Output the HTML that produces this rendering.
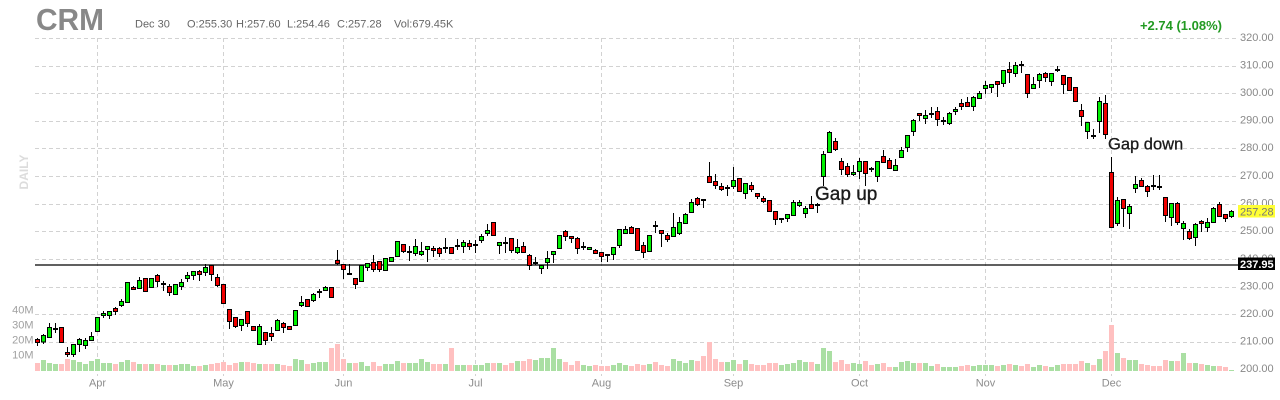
<!DOCTYPE html>
<html>
<head>
<meta charset="utf-8">
<style>
html,body{margin:0;padding:0;background:#fff;}
body{width:1280px;height:400px;overflow:hidden;}
svg{display:block;font-family:"Liberation Sans",Arial,sans-serif;}
</style>
</head>
<body>
<svg width="1280" height="400" viewBox="0 0 1280 400" xmlns="http://www.w3.org/2000/svg">
<rect width="1280" height="400" fill="#fff"/>

<g stroke="#d2d2d2" stroke-width="1" stroke-dasharray="4,3" shape-rendering="crispEdges">
<path d="M35 38.5H1236M35 66.5H1236M35 93.5H1236M35 121.5H1236M35 148.5H1236M35 176.5H1236M35 204.5H1236M35 231.5H1236M35 259.5H1236M35 287.5H1236M35 314.5H1236M35 342.5H1236"/>
<path d="M97.5 38V376M223.5 38V376M343.5 38V376M475.5 38V376M601.5 38V376M733.5 38V376M859.5 38V376M985.5 38V376M1111.5 38V376"/>
</g>

<path fill="#aadfa3" d="M41 371v-11h5v11zM47 371v-8h5v8zM53 371v-7h5v7zM71 371v-11h5v11zM77 371v-9h5v9zM83 371v-7h5v7zM89 371v-10h5v10zM95 371v-12h5v12zM101 371v-8h5v8zM107 371v-8h5v8zM119 371v-9h5v9zM125 371v-11h5v11zM137 371v-7h5v7zM149 371v-7h5v7zM161 371v-6h5v6zM173 371v-6h5v6zM179 371v-7h5v7zM185 371v-7h5v7zM191 371v-5h5v5zM203 371v-6h5v6zM239 371v-9h5v9zM257 371v-7h5v7zM275 371v-7h5v7zM293 371v-12h5v12zM299 371v-11h5v11zM311 371v-8h5v8zM317 371v-9h5v9zM323 371v-9h5v9zM347 371v-8h5v8zM359 371v-9h5v9zM365 371v-5h5v5zM383 371v-7h5v7zM389 371v-7h5v7zM395 371v-10h5v10zM407 371v-8h5v8zM413 371v-8h5v8zM419 371v-12h5v12zM425 371v-9h5v9zM443 371v-7h5v7zM455 371v-6h5v6zM461 371v-6h5v6zM473 371v-6h5v6zM479 371v-6h5v6zM485 371v-8h5v8zM497 371v-8h5v8zM515 371v-10h5v10zM533 371v-11h5v11zM539 371v-13h5v13zM545 371v-13h5v13zM551 371v-23h5v23zM557 371v-12h5v12zM581 371v-6h5v6zM587 371v-5h5v5zM611 371v-6h5v6zM617 371v-8h5v8zM623 371v-6h5v6zM647 371v-7h5v7zM671 371v-12h5v12zM677 371v-10h5v10zM683 371v-8h5v8zM689 371v-11h5v11zM725 371v-9h5v9zM731 371v-11h5v11zM743 371v-11h5v11zM779 371v-6h5v6zM785 371v-7h5v7zM791 371v-8h5v8zM797 371v-11h5v11zM803 371v-9h5v9zM815 371v-7h5v7zM821 371v-23h5v23zM827 371v-20h5v20zM851 371v-8h5v8zM857 371v-7h5v7zM875 371v-7h5v7zM893 371v-4h5v4zM899 371v-9h5v9zM905 371v-10h5v10zM911 371v-8h5v8zM923 371v-8h5v8zM929 371v-5h5v5zM941 371v-4h5v4zM947 371v-4h5v4zM953 371v-4h5v4zM971 371v-5h5v5zM977 371v-6h5v6zM983 371v-6h5v6zM989 371v-6h5v6zM1001 371v-6h5v6zM1013 371v-6h5v6zM1031 371v-4h5v4zM1037 371v-6h5v6zM1049 371v-4h5v4zM1055 371v-6h5v6zM1085 371v-8h5v8zM1097 371v-12h5v12zM1115 371v-18h5v18zM1127 371v-11h5v11zM1133 371v-11h5v11zM1169 371v-10h5v10zM1181 371v-18h5v18zM1193 371v-8h5v8zM1205 371v-6h5v6zM1211 371v-5h5v5zM1229 371v-1h5v1z"/>
<path fill="#ffc0c0" d="M35 371v-8h5v8zM59 371v-7h5v7zM65 371v-12h5v12zM113 371v-7h5v7zM131 371v-9h5v9zM143 371v-7h5v7zM155 371v-7h5v7zM167 371v-6h5v6zM197 371v-5h5v5zM209 371v-7h5v7zM215 371v-8h5v8zM221 371v-9h5v9zM227 371v-6h5v6zM233 371v-8h5v8zM245 371v-9h5v9zM251 371v-8h5v8zM263 371v-7h5v7zM269 371v-7h5v7zM281 371v-6h5v6zM287 371v-5h5v5zM305 371v-7h5v7zM329 371v-23h5v23zM335 371v-27h5v27zM341 371v-12h5v12zM353 371v-8h5v8zM371 371v-9h5v9zM377 371v-5h5v5zM401 371v-8h5v8zM431 371v-7h5v7zM437 371v-7h5v7zM449 371v-23h5v23zM467 371v-6h5v6zM491 371v-8h5v8zM503 371v-6h5v6zM509 371v-8h5v8zM521 371v-10h5v10zM527 371v-12h5v12zM563 371v-9h5v9zM569 371v-6h5v6zM575 371v-10h5v10zM593 371v-6h5v6zM599 371v-5h5v5zM605 371v-5h5v5zM629 371v-5h5v5zM635 371v-7h5v7zM641 371v-6h5v6zM653 371v-9h5v9zM659 371v-6h5v6zM665 371v-5h5v5zM695 371v-10h5v10zM701 371v-15h5v15zM707 371v-29h5v29zM713 371v-12h5v12zM719 371v-9h5v9zM737 371v-7h5v7zM749 371v-7h5v7zM755 371v-6h5v6zM761 371v-6h5v6zM767 371v-8h5v8zM773 371v-8h5v8zM809 371v-9h5v9zM833 371v-9h5v9zM839 371v-11h5v11zM845 371v-7h5v7zM863 371v-10h5v10zM869 371v-6h5v6zM881 371v-8h5v8zM887 371v-4h5v4zM917 371v-8h5v8zM935 371v-7h5v7zM959 371v-5h5v5zM965 371v-6h5v6zM995 371v-5h5v5zM1007 371v-7h5v7zM1019 371v-5h5v5zM1025 371v-7h5v7zM1043 371v-5h5v5zM1061 371v-7h5v7zM1067 371v-7h5v7zM1073 371v-7h5v7zM1079 371v-10h5v10zM1091 371v-6h5v6zM1103 371v-20h5v20zM1109 371v-46h5v46zM1121 371v-13h5v13zM1139 371v-7h5v7zM1145 371v-6h5v6zM1151 371v-5h5v5zM1157 371v-5h5v5zM1163 371v-11h5v11zM1175 371v-10h5v10zM1187 371v-8h5v8zM1199 371v-7h5v7zM1217 371v-5h5v5zM1223 371v-4h5v4z"/>

<path d="M35 265H1238" stroke="#000" stroke-width="1.3"/>

<path stroke="#000" stroke-width="1" fill="none" d="M37.5 338V346M43.5 334V344M49.5 323V338M55.5 323V333M61.5 327V343M67.5 347V357M73.5 345V357M79.5 338V352M85.5 338V349M91.5 332V341M97.5 317V332M103.5 311V318M109.5 311V319M115.5 307V315M121.5 299V307M127.5 282V303M133.5 286V290M139.5 277V289M145.5 278V292M151.5 278V288M157.5 274V287M163.5 281V291M169.5 284V296M175.5 284V295M181.5 279V290M187.5 272V282M193.5 271V280M199.5 270V281M205.5 264V276M211.5 265V281M217.5 274V287M223.5 284V304M229.5 309V329M235.5 317V328M241.5 319V331M247.5 311V327M253.5 326V331M259.5 324V345M265.5 332V345M271.5 327V341M277.5 319V331M283.5 322V333M289.5 326V330M295.5 310V326M301.5 296V307M307.5 299V307M313.5 293V302M319.5 289V298M325.5 286V291M331.5 287V298M337.5 250V265M343.5 264V279M349.5 264V275M355.5 278V289M361.5 265V282M367.5 263V271M373.5 255V272M379.5 261V272M385.5 258V271M391.5 257V262M397.5 241V257M403.5 244V253M409.5 246V261M415.5 239V256M421.5 242V256M427.5 246V262M433.5 246V257M439.5 247V257M445.5 238V253M451.5 247V254M457.5 239V250M463.5 240V253M469.5 240V250M475.5 240V253M481.5 234V243M487.5 224V236M493.5 222V236M499.5 242V254M505.5 237V253M511.5 238V253M517.5 239V254M523.5 242V253M529.5 254V270M535.5 257V265M541.5 265V274M547.5 251V269M553.5 251V263M559.5 235V249M565.5 230V241M571.5 236V243M577.5 237V254M583.5 242V250M589.5 247V250M595.5 249V254M601.5 252V262M607.5 254V262M613.5 247V260M619.5 229V248M625.5 226V234M631.5 226V234M637.5 228V250M643.5 242V258M649.5 235V252M655.5 221V233M661.5 230V247M667.5 233V242M673.5 213V237M679.5 217V235M685.5 213V224M691.5 199V213M697.5 197V206M703.5 199V208M709.5 162V183M715.5 174V189M721.5 183V191M727.5 185V196M733.5 167V189M739.5 178V192M745.5 183V199M751.5 182V192M757.5 193V199M763.5 196V203M769.5 200V211M775.5 211V225M781.5 218V223M787.5 214V222M793.5 200V216M799.5 200V207M805.5 206V218M811.5 196V209M817.5 203V213M823.5 151V186M829.5 131V153M835.5 138V151M841.5 158V175M847.5 163V177M853.5 165V176M859.5 158V179M865.5 161V186M871.5 167V172M877.5 161V182M883.5 150V163M889.5 158V169M895.5 159V171M901.5 147V158M907.5 135V152M913.5 119V136M919.5 113V121M925.5 110V124M931.5 107V118M937.5 107V126M943.5 117V125M949.5 112V125M955.5 107V115M961.5 99V110M967.5 97V107M973.5 96V111M979.5 91V99M985.5 81V94M991.5 84V93M997.5 81V97M1003.5 70V87M1009.5 62V83M1015.5 62V77M1021.5 61V73M1027.5 74V98M1033.5 77V89M1039.5 73V88M1045.5 72V82M1051.5 73V86M1057.5 66V72M1063.5 75V94M1069.5 77V90M1075.5 87V101M1081.5 104V126M1087.5 122V139M1093.5 129V139M1099.5 97V133M1105.5 95V139M1111.5 157V227M1117.5 197V226M1123.5 199V227M1129.5 204V229M1135.5 176V193M1141.5 178V187M1147.5 185V197M1153.5 175V190M1159.5 175V190M1165.5 197V222M1171.5 203V226M1177.5 202V225M1183.5 221V240M1189.5 229V240M1195.5 223V246M1201.5 220V232M1207.5 218V232M1213.5 207V223M1219.5 202V217M1225.5 214V222M1231.5 210V218"/>

<path stroke="#000" stroke-width="2" fill="none" d="M53 329H58M161 284H166M317 292H322M347 274H352M407 252H412M443 248H448M455 246H460M473 245H478M503 243H508M533 263H538M581 247H586M605 255H610M653 226H658M701 200H706M725 188H730M779 219H784M815 205H820M869 169H874M929 114H934M941 121H946M1019 65H1024M1055 70H1060M1091 136H1096M1151 186H1156M1157 187H1162"/>

<path fill="#00f000" stroke="#000" stroke-width="1" d="M41.5 335.5h4v6.5h-4zM47.5 327.5h4v10h-4zM71.5 344.5h4v10h-4zM77.5 339.5h4v5h-4zM83.5 340.5h4v5h-4zM89.5 336.5h4v4h-4zM95.5 317.5h4v14h-4zM101.5 313.5h4v2h-4zM107.5 311.5h4v4h-4zM119.5 301.5h4v4h-4zM125.5 282.5h4v20h-4zM137.5 280.5h4v8h-4zM149.5 278.5h4v9h-4zM173.5 284.5h4v10h-4zM179.5 282.5h4v4h-4zM185.5 275.5h4v3h-4zM191.5 271.5h4v4h-4zM203.5 267.5h4v5h-4zM239.5 319.5h4v6h-4zM257.5 326.5h4v18h-4zM275.5 320.5h4v10h-4zM293.5 310.5h4v15h-4zM299.5 302.5h4v3h-4zM311.5 294.5h4v6h-4zM323.5 287.5h4v3h-4zM359.5 265.5h4v16h-4zM365.5 263.5h4v4h-4zM383.5 258.5h4v12h-4zM389.5 257.5h4v4h-4zM395.5 241.5h4v15h-4zM413.5 246.5h4v7h-4zM419.5 251.5h4v3h-4zM425.5 246.5h4v3h-4zM461.5 242.5h4v4h-4zM479.5 236.5h4v4h-4zM485.5 230.5h4v3h-4zM497.5 242.5h4v3h-4zM515.5 247.5h4v5h-4zM539.5 265.5h4v3h-4zM545.5 258.5h4v4h-4zM551.5 251.5h4v3h-4zM557.5 235.5h4v13h-4zM587.5 247.5h4v2h-4zM611.5 247.5h4v7h-4zM617.5 229.5h4v16h-4zM623.5 229.5h4v4h-4zM647.5 235.5h4v16h-4zM671.5 227.5h4v9h-4zM677.5 222.5h4v11h-4zM683.5 214.5h4v9h-4zM689.5 202.5h4v10h-4zM731.5 180.5h4v6h-4zM743.5 183.5h4v10h-4zM785.5 214.5h4v4h-4zM791.5 202.5h4v13h-4zM797.5 202.5h4v3h-4zM803.5 208.5h4v5h-4zM821.5 154.5h4v22h-4zM827.5 132.5h4v20h-4zM851.5 172.5h4v2h-4zM857.5 161.5h4v10h-4zM875.5 161.5h4v15h-4zM893.5 165.5h4v5h-4zM899.5 150.5h4v7h-4zM905.5 135.5h4v12h-4zM911.5 120.5h4v11h-4zM923.5 115.5h4v3h-4zM947.5 113.5h4v10h-4zM953.5 109.5h4v2h-4zM971.5 97.5h4v9h-4zM977.5 93.5h4v5h-4zM983.5 85.5h4v3h-4zM989.5 84.5h4v3h-4zM1001.5 70.5h4v13h-4zM1013.5 65.5h4v8h-4zM1031.5 84.5h4v4h-4zM1037.5 74.5h4v6h-4zM1049.5 73.5h4v8h-4zM1085.5 122.5h4v9h-4zM1097.5 101.5h4v20h-4zM1115.5 200.5h4v23h-4zM1127.5 206.5h4v7h-4zM1133.5 184.5h4v4h-4zM1169.5 203.5h4v14h-4zM1181.5 223.5h4v5h-4zM1193.5 224.5h4v13h-4zM1205.5 222.5h4v5h-4zM1211.5 208.5h4v14h-4zM1229.5 211.5h4v5h-4z"/>

<path fill="#f00000" stroke="#000" stroke-width="1" d="M35.5 339.5h4v3h-4zM59.5 327.5h4v15h-4zM65.5 352.5h4v2h-4zM113.5 308.5h4v3h-4zM131.5 287.5h4v2h-4zM143.5 278.5h4v13h-4zM155.5 275.5h4v6h-4zM167.5 286.5h4v6h-4zM197.5 271.5h4v3h-4zM209.5 265.5h4v9h-4zM215.5 277.5h4v8h-4zM221.5 284.5h4v19h-4zM227.5 309.5h4v12h-4zM233.5 317.5h4v9h-4zM245.5 311.5h4v12h-4zM251.5 326.5h4v4h-4zM263.5 332.5h4v8h-4zM269.5 333.5h4v3h-4zM281.5 323.5h4v4h-4zM287.5 326.5h4v3h-4zM305.5 299.5h4v7h-4zM329.5 287.5h4v10h-4zM335.5 260.5h4v3h-4zM341.5 264.5h4v5h-4zM353.5 278.5h4v6h-4zM371.5 262.5h4v7h-4zM377.5 261.5h4v8h-4zM401.5 244.5h4v7h-4zM431.5 248.5h4v2h-4zM437.5 248.5h4v5h-4zM449.5 247.5h4v6h-4zM467.5 243.5h4v3h-4zM491.5 222.5h4v13h-4zM509.5 238.5h4v12h-4zM521.5 246.5h4v6h-4zM527.5 255.5h4v10h-4zM563.5 231.5h4v5h-4zM569.5 236.5h4v2h-4zM575.5 238.5h4v10h-4zM593.5 250.5h4v3h-4zM599.5 252.5h4v4h-4zM629.5 227.5h4v6h-4zM635.5 228.5h4v22h-4zM641.5 245.5h4v7h-4zM659.5 230.5h4v3h-4zM665.5 235.5h4v4h-4zM695.5 198.5h4v6h-4zM707.5 176.5h4v6h-4zM713.5 181.5h4v4h-4zM719.5 186.5h4v3h-4zM737.5 178.5h4v13h-4zM749.5 185.5h4v4h-4zM755.5 193.5h4v3h-4zM761.5 198.5h4v3h-4zM767.5 200.5h4v11h-4zM773.5 211.5h4v8h-4zM809.5 204.5h4v4h-4zM833.5 141.5h4v8h-4zM839.5 161.5h4v8h-4zM845.5 166.5h4v8h-4zM863.5 161.5h4v12h-4zM881.5 156.5h4v6h-4zM887.5 160.5h4v8h-4zM917.5 113.5h4v2h-4zM935.5 111.5h4v8h-4zM959.5 103.5h4v3h-4zM965.5 102.5h4v4h-4zM995.5 81.5h4v3h-4zM1007.5 69.5h4v3h-4zM1025.5 74.5h4v19h-4zM1043.5 73.5h4v4h-4zM1061.5 75.5h4v9h-4zM1067.5 77.5h4v13h-4zM1073.5 87.5h4v14h-4zM1079.5 110.5h4v6h-4zM1103.5 103.5h4v31h-4zM1109.5 172.5h4v55h-4zM1121.5 199.5h4v9h-4zM1139.5 180.5h4v6h-4zM1145.5 186.5h4v5h-4zM1163.5 197.5h4v18h-4zM1175.5 203.5h4v19h-4zM1187.5 231.5h4v7h-4zM1199.5 221.5h4v2h-4zM1217.5 204.5h4v12h-4zM1223.5 214.5h4v4h-4z"/>

<g font-size="11" fill="#888">
<text x="1240" y="41">320.00</text>
<text x="1240" y="68.5">310.00</text>
<text x="1240" y="96">300.00</text>
<text x="1240" y="123.5">290.00</text>
<text x="1240" y="151">280.00</text>
<text x="1240" y="179">270.00</text>
<text x="1240" y="206.5">260.00</text>
<text x="1240" y="234">250.00</text>
<text x="1240" y="262">240.00</text>
<text x="1240" y="289.5">230.00</text>
<text x="1240" y="317">220.00</text>
<text x="1240" y="344.5">210.00</text>
<text x="1240" y="372">200.00</text>
</g>
<rect x="1238" y="205" width="37" height="12.5" fill="#ffff33"/>
<text x="1240" y="215.3" font-size="11" fill="#777">257.28</text>
<rect x="1238" y="257.5" width="37" height="12.5" fill="#000"/>
<text x="1240" y="268" font-size="11" font-weight="bold" fill="#fff">237.95</text>

<g font-size="11" fill="#a0a0a0" text-anchor="end">
<text x="33.5" y="313.5">40M</text>
<text x="33.5" y="328.5">30M</text>
<text x="33.5" y="343.5">20M</text>
<text x="33.5" y="358.5">10M</text>
</g>

<g font-size="11" fill="#8c8c8c" text-anchor="middle">
<text x="97.5" y="386.5">Apr</text>
<text x="223.5" y="386.5">May</text>
<text x="343.5" y="386.5">Jun</text>
<text x="475.5" y="386.5">Jul</text>
<text x="601.5" y="386.5">Aug</text>
<text x="733.5" y="386.5">Sep</text>
<text x="859.5" y="386.5">Oct</text>
<text x="985.5" y="386.5">Nov</text>
<text x="1111.5" y="386.5">Dec</text>
</g>

<text transform="translate(28,172) rotate(-90)" text-anchor="middle" font-size="12" font-weight="bold" fill="#dcdcdc">DAILY</text>

<text x="36" y="30" font-size="31" font-weight="bold" fill="#888" textLength="68" lengthAdjust="spacingAndGlyphs">CRM</text>
<g font-size="11" fill="#666">
<text x="135" y="27.5">Dec 30</text>
<text x="187" y="27.5">O:255.30</text>
<text x="236" y="27.5">H:257.60</text>
<text x="287" y="27.5">L:254.46</text>
<text x="337" y="27.5">C:257.28</text>
<text x="394" y="27.5">Vol:679.45K</text>
</g>
<text x="1222" y="30" font-size="13" font-weight="bold" fill="#229a22" text-anchor="end">+2.74 (1.08%)</text>

<text x="815" y="200" font-size="19" fill="#1a1a1a" stroke="#1a1a1a" stroke-width="0.35">Gap up</text>
<text x="1108" y="149.5" font-size="16.5" fill="#1a1a1a" stroke="#1a1a1a" stroke-width="0.3">Gap down</text>
</svg>
</body>
</html>
